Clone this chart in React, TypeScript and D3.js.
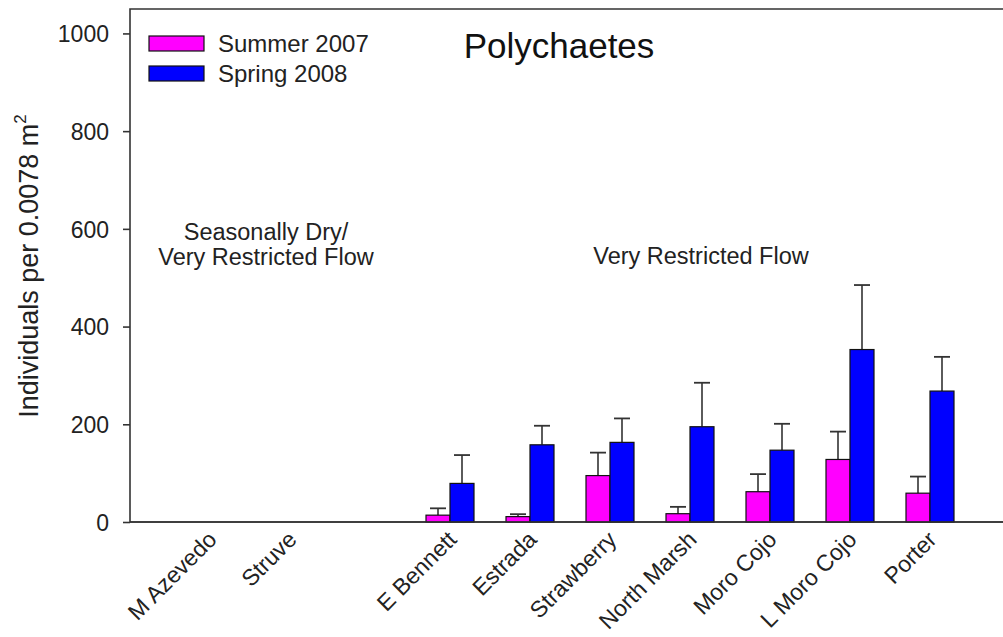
import { useEffect, useRef } from "react";
import * as d3 from "d3";

// sites along the x axis ("" = empty slot between the two groups)
const sites = ["M Azevedo", "Struve", "", "E Bennett", "Estrada", "Strawberry", "North Marsh", "Moro Cojo", "L Moro Cojo", "Porter"];
const seriesNames = ["Summer 2007", "Spring 2008"];
const seriesColors = ["#ff00ff", "#0000ff"];

// means and standard errors (null = no sample)
const summer2007 = [null, null, null, 14, 11, 95, 17, 62, 128, 59];
const summer2007Err = [null, null, null, 14, 5, 47, 14, 36, 57, 34];
const spring2008 = [null, null, null, 79, 158, 163, 195, 147, 353, 268];
const spring2008Err = [null, null, null, 58, 39, 49, 90, 54, 132, 70];

const yTicks = [0, 200, 400, 600, 800, 1000];

const App = () => {
  const svgRef = useRef<SVGSVGElement | null>(null);

  useEffect(() => {
    const width = 1003;
    const height = 637;
    const left = 130;
    const top = 9;
    const bottom = 522;
    const right = 1012;

    const svg = d3.select(svgRef.current);
    svg.selectAll("*").remove();

    const x = d3.scaleBand<string>()
      .domain(sites.map((s, i) => s || `gap${i}`))
      .range([170, 970])
      .paddingInner(0.4)
      .paddingOuter(0.2);

    const xs = d3.scaleBand<string>().domain(seriesNames).range([0, x.bandwidth()]);

    const y = d3.scaleLinear().domain([0, 1050]).range([bottom, top]);

    const font = "Arial, 'Liberation Sans', Helvetica, sans-serif";
    const axisColor = "#333";

    // frame: left, top, bottom
    svg.append("path")
      .attr("d", `M${right},${top}H${left}V${bottom}H${right}`)
      .attr("fill", "none")
      .attr("stroke", axisColor)
      .attr("stroke-width", 1.6);

    // y axis
    const yAxis = svg.append("g")
      .attr("transform", `translate(${left},0)`)
      .call(d3.axisLeft(y).tickValues(yTicks).tickFormat(d3.format("d")).tickSize(7).tickPadding(14).tickSizeOuter(0));
    yAxis.select(".domain").remove();
    yAxis.selectAll("line").attr("stroke", axisColor).attr("stroke-width", 1.6);
    yAxis.selectAll("text")
      .attr("font-family", font)
      .attr("font-size", 23)
      .attr("fill", "#222")
      .attr("dy", "0.36em");

    // y label
    const yl = svg.append("text")
      .attr("transform", `translate(38,266) rotate(-90)`)
      .attr("text-anchor", "middle")
      .attr("font-family", font)
      .attr("font-size", 27)
      .attr("fill", "#222");
    yl.append("tspan").text("Individuals per 0.0078 m");
    yl.append("tspan").attr("font-size", 17).attr("dy", -12).text("2");

    // bars + error bars
    const series = [
      { name: seriesNames[0], values: summer2007, errs: summer2007Err, color: seriesColors[0] },
      { name: seriesNames[1], values: spring2008, errs: spring2008Err, color: seriesColors[1] },
    ];
    const capW = 16;

    series.forEach((s) => {
      const data = sites
        .map((site, i) => ({ key: site || `gap${i}`, v: s.values[i], e: s.errs[i] }))
        .filter((d) => d.v != null) as { key: string; v: number; e: number }[];

      const g = svg.append("g");
      const cx = (d: { key: string }) => (x(d.key) as number) + (xs(s.name) as number) + xs.bandwidth() / 2;

      g.selectAll("line.err")
        .data(data)
        .join("line")
        .attr("class", "err")
        .attr("x1", cx)
        .attr("x2", cx)
        .attr("y1", (d) => y(d.v))
        .attr("y2", (d) => y(d.v + d.e))
        .attr("stroke", "#333")
        .attr("stroke-width", 1.6);

      g.selectAll("line.cap")
        .data(data)
        .join("line")
        .attr("class", "cap")
        .attr("x1", (d) => cx(d) - capW / 2)
        .attr("x2", (d) => cx(d) + capW / 2)
        .attr("y1", (d) => y(d.v + d.e))
        .attr("y2", (d) => y(d.v + d.e))
        .attr("stroke", "#333")
        .attr("stroke-width", 1.8);

      g.selectAll("rect")
        .data(data)
        .join("rect")
        .attr("x", (d) => (x(d.key) as number) + (xs(s.name) as number))
        .attr("width", xs.bandwidth())
        .attr("y", (d) => y(d.v))
        .attr("height", (d) => y(0) - y(d.v))
        .attr("fill", s.color)
        .attr("stroke", "#111")
        .attr("stroke-width", 1.2);
    });

    // redraw baseline on top of bars
    svg.append("line")
      .attr("x1", left).attr("x2", right)
      .attr("y1", bottom).attr("y2", bottom)
      .attr("stroke", axisColor).attr("stroke-width", 1.6);

    // x tick labels
    svg.append("g")
      .selectAll("text")
      .data(sites.map((s, i) => ({ s, key: s || `gap${i}` })).filter((d) => d.s))
      .join("text")
      .attr("transform", (d) => `translate(${(x(d.key) as number) + x.bandwidth() / 2 + 8},${bottom + 19}) rotate(-45)`)
      .attr("text-anchor", "end")
      .attr("font-family", font)
      .attr("font-size", 23)
      .attr("fill", "#222")
      .text((d) => d.s);

    // legend
    const legend = svg.append("g").attr("transform", "translate(149,36)");
    seriesNames.forEach((n, i) => {
      legend.append("rect")
        .attr("x", 0)
        .attr("y", i * 30)
        .attr("width", 55)
        .attr("height", 15)
        .attr("fill", seriesColors[i])
        .attr("stroke", "#111")
        .attr("stroke-width", 1.2);
      legend.append("text")
        .attr("x", 69)
        .attr("y", i * 30 + 16)
        .attr("font-family", font)
        .attr("font-size", 24)
        .attr("fill", "#222")
        .text(n);
    });

    // title
    svg.append("text")
      .attr("x", 559)
      .attr("y", 58)
      .attr("text-anchor", "middle")
      .attr("font-family", font)
      .attr("font-size", 35)
      .attr("fill", "#111")
      .text("Polychaetes");

    // group annotations
    const note = svg.append("g")
      .attr("font-family", font)
      .attr("font-size", 23.5)
      .attr("fill", "#222")
      .attr("text-anchor", "middle");
    note.append("text").attr("x", 266).attr("y", 240).text("Seasonally Dry/");
    note.append("text").attr("x", 266).attr("y", 265).text("Very Restricted Flow");
    note.append("text").attr("x", 701).attr("y", 264).text("Very Restricted Flow");

    svg.attr("width", width).attr("height", height);

    return () => {
      svg.selectAll("*").remove();
    };
  }, []);

  return (
    <svg
      ref={svgRef}
      width={1003}
      height={637}
      style={{ position: "absolute", left: 0, top: 0, background: "#fff", display: "block" }}
    ></svg>
  );
};

export default App;
